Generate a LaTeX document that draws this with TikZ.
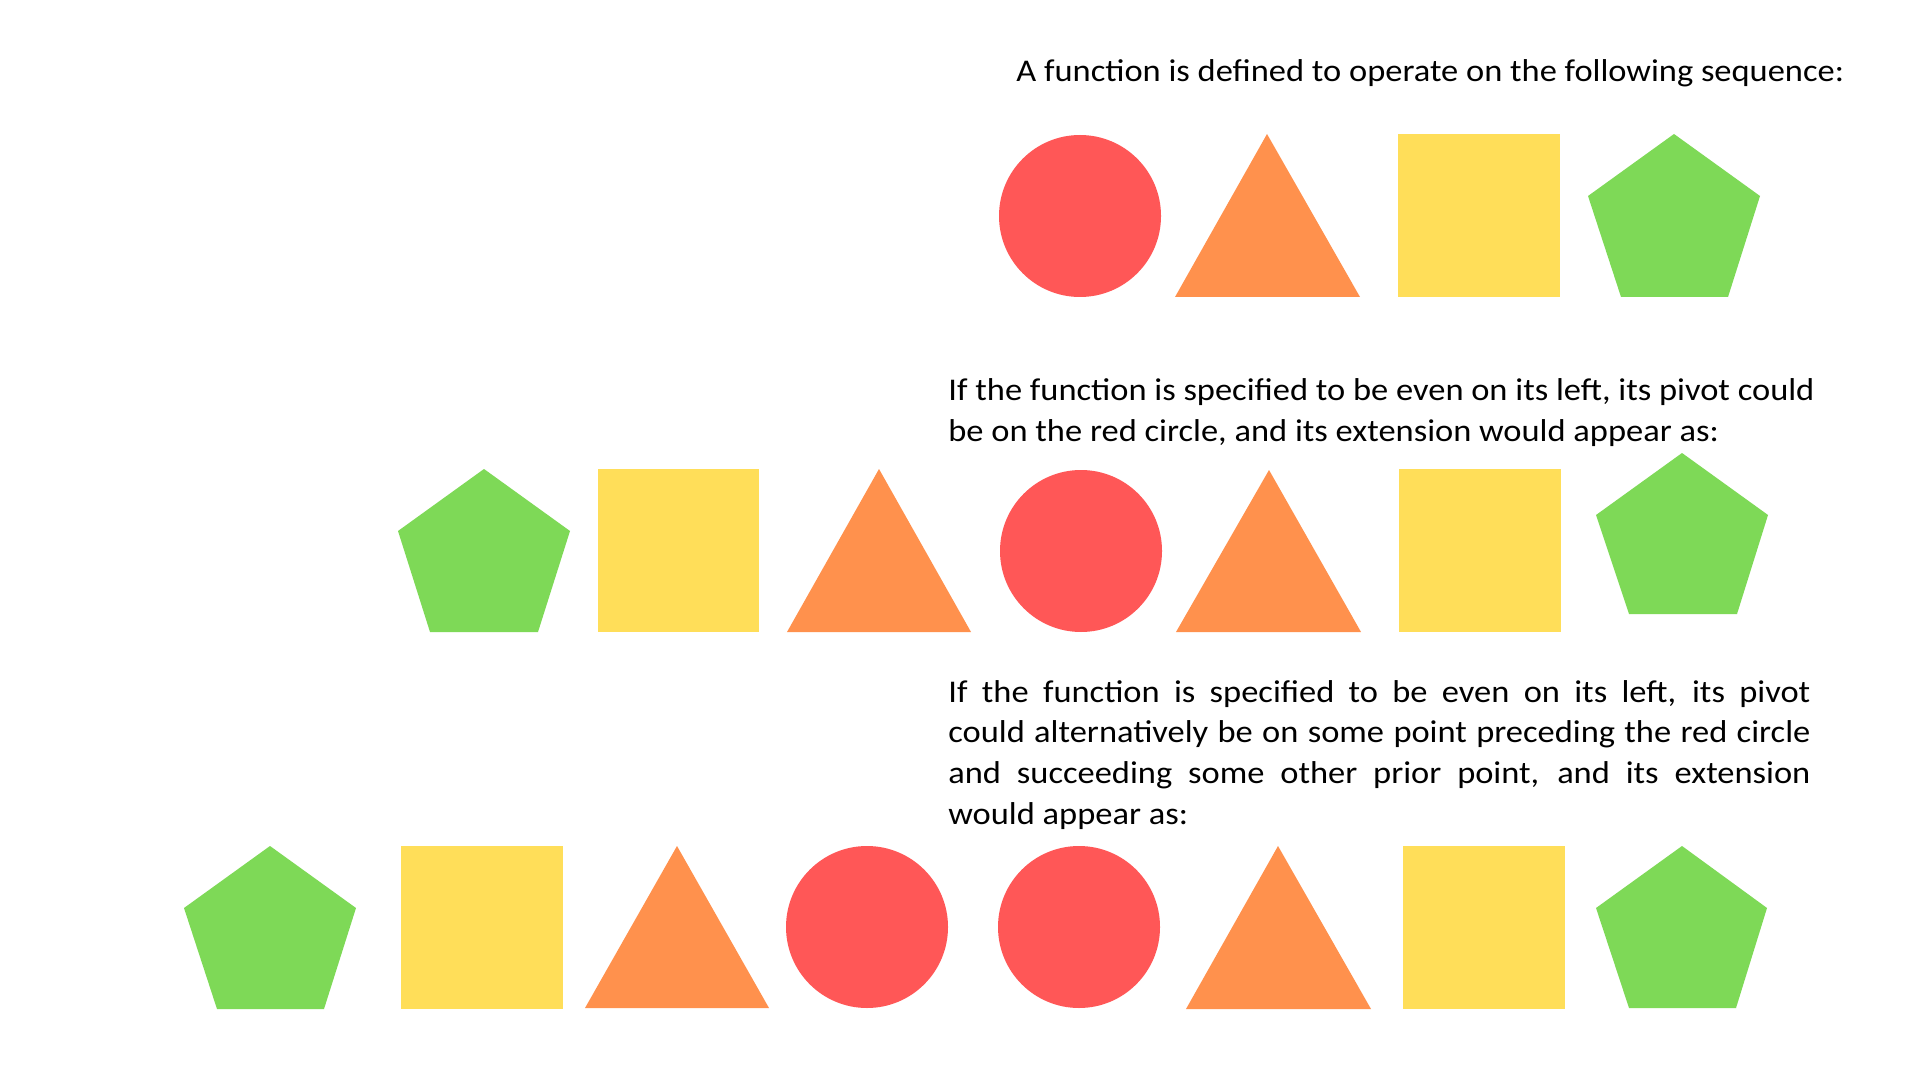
\documentclass[tikz,border=0pt]{standalone}
\usepackage{fontspec}
\setmainfont{Carlito}[FakeStretch=1.09]
\definecolor{sred}{HTML}{FF5757}
\definecolor{sorange}{HTML}{FF914D}
\definecolor{syellow}{HTML}{FFDE59}
\definecolor{sgreen}{HTML}{7ED957}
\tikzset{
  redshape/.style={fill=sred},
  orangeshape/.style={fill=sorange},
  yellowshape/.style={fill=syellow},
  greenshape/.style={fill=sgreen},
  txt/.style={inner sep=0pt, font=\fontsize{15.8}{20.3}\selectfont, text=black},
}
\begin{document}
\begin{tikzpicture}[x=0.5pt,y=-0.5pt]
\useasboundingbox (0,0) rectangle (1920,1080);
\fill[white] (0,0) rectangle (1920,1080);

% texts
\node[txt, anchor=base west] (t1) at (1016,82) {A function is defined to operate on the following sequence:};
\node[txt, anchor=base west, align=left] (t2) at (948,441) {If the function is specified to be even on its left, its pivot could\\be on the red circle, and its extension would appear as:};
\node[txt, anchor=north west, text width=431pt, align=justify] (t3) at (948,680) {\hyphenpenalty=10000 If the function is specified to be even on its left, its pivot\linebreak could alternatively be on some point preceding the red circle\linebreak and succeeding some other prior point, and its extension\linebreak would appear as:};

% row 1
\fill[redshape] (1080,216) circle (81);
\fill[orangeshape] (1267,134) -- (1360,297) -- (1175,297) -- cycle;
\fill[yellowshape] (1398,134) rectangle (1560,297);
\fill[greenshape] (1674,134) -- (1760,196) -- (1728,297) -- (1621,297) -- (1588,196) -- cycle;

% row 2
\fill[greenshape] (484,469) -- (570,531) -- (538,632) -- (430,632) -- (398,531) -- cycle;
\fill[yellowshape] (598,469) rectangle (759,632);
\fill[orangeshape] (879,469) -- (971,632) -- (787,632) -- cycle;
\fill[redshape] (1081,551) circle (81);
\fill[orangeshape] (1269,470) -- (1361,632) -- (1176,632) -- cycle;
\fill[yellowshape] (1399,469) rectangle (1561,632);
\fill[greenshape] (1682,453) -- (1768,515) -- (1737,614) -- (1629,614) -- (1596,515) -- cycle;

% row 3
\fill[greenshape] (270,846) -- (356,908) -- (324,1009) -- (217,1009) -- (184,908) -- cycle;
\fill[yellowshape] (401,846) rectangle (563,1009);
\fill[orangeshape] (677,846) -- (769,1008) -- (585,1008) -- cycle;
\fill[redshape] (867,927) circle (81);
\fill[redshape] (1079,927) circle (81);
\fill[orangeshape] (1278,846) -- (1371,1009) -- (1186,1009) -- cycle;
\fill[yellowshape] (1403,846) rectangle (1565,1009);
\fill[greenshape] (1682,846) -- (1767,908) -- (1736,1008) -- (1629,1008) -- (1596,908) -- cycle;
\end{tikzpicture}
\end{document}
